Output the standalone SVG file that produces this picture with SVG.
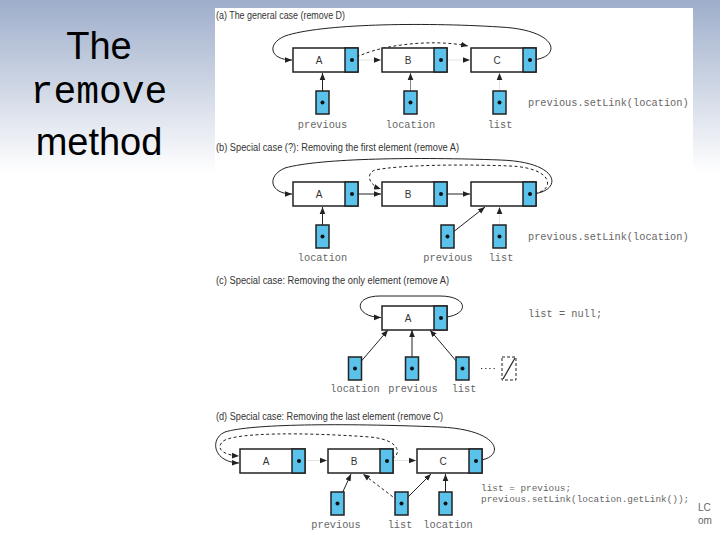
<svg xmlns="http://www.w3.org/2000/svg" xmlns:xlink="http://www.w3.org/1999/xlink" width="720" height="540" viewBox="0 0 720 540">
<style>
.title{font-family:"Liberation Sans",Arial,sans-serif;font-size:38px;fill:#000;text-anchor:middle}
.titlem{font-family:"Liberation Mono","Courier New",monospace;font-size:38px;fill:#000;text-anchor:middle}
.cap{font-family:"Liberation Sans",Arial,sans-serif;font-size:10px;fill:#333}
.lbl{font-family:"Liberation Mono","Courier New",monospace;font-size:10.3px;fill:#666;text-anchor:middle}
.code{font-family:"Liberation Mono","Courier New",monospace;font-size:10.3px;fill:#666}
.nt{font-family:"Liberation Sans",Arial,sans-serif;font-size:10px;fill:#333;text-anchor:middle}
.ln{fill:none;stroke:#222;stroke-width:1}
.ds{fill:none;stroke:#222;stroke-width:1;stroke-dasharray:3,2.5}
.fa{fill:none;stroke:#e4e4e4;stroke-width:1}
.gl{fill:none;stroke:#888;stroke-width:1}
.cr{font-family:"Liberation Sans",Arial,sans-serif;font-size:10px;fill:#666}
</style>
<defs>
<linearGradient id="bg" x1="0" y1="0" x2="0" y2="1">
<stop offset="0" stop-color="#9eaecb"/>
<stop offset="0.32" stop-color="#ffffff"/>
<stop offset="1" stop-color="#ffffff"/>
</linearGradient>
<marker id="ah" viewBox="0 0 10 10" refX="10" refY="5" markerWidth="7" markerHeight="7" markerUnits="userSpaceOnUse" orient="auto">
<path d="M0,1 L10,5 L0,9 z" fill="#222"/>
</marker>
<g id="node">
<rect x="0" y="0" width="65" height="24" fill="#fff" stroke="#222" stroke-width="1.5"/>
<rect x="52" y="0" width="13" height="24" fill="#5bc2ec" stroke="#222" stroke-width="1.5"/>
<circle cx="59" cy="12" r="2" fill="#111"/>
</g>
<g id="ptr">
<rect x="0" y="0" width="13" height="23" fill="#5bc2ec" stroke="#222" stroke-width="1.5"/>
<circle cx="6.5" cy="11.5" r="2" fill="#111"/>
</g>
</defs>
<rect x="0" y="0" width="720" height="540" fill="url(#bg)"/>
<text class="cr" x="698" y="511">LC</text>
<text class="cr" x="698" y="524">om</text>
<rect x="215" y="8" width="478" height="524" fill="#fff"/>
<g id="title">
<text class="title" x="99" y="59">The</text>
<text class="titlem" x="99" y="103">remove</text>
<text class="title" x="99" y="155">method</text>
</g>
<g id="captions">
<text class="cap" x="216" y="19" textLength="129" lengthAdjust="spacingAndGlyphs">(a) The general case (remove D)</text>
<text class="cap" x="216" y="151" textLength="243" lengthAdjust="spacingAndGlyphs">(b) Special case (?): Removing the first element (remove A)</text>
<text class="cap" x="216" y="284" textLength="233" lengthAdjust="spacingAndGlyphs">(c) Special case: Removing the only element (remove A)</text>
<text class="cap" x="216" y="420" textLength="227" lengthAdjust="spacingAndGlyphs">(d) Special case: Removing the last element (remove C)</text>
</g>
<g id="connectors">
<line class="ln" x1="322.5" y1="102.5" x2="322.5" y2="73" marker-end="url(#ah)"/>
<line class="gl" x1="410.5" y1="102.5" x2="410.5" y2="73" marker-end="url(#ah)"/>
<line class="fa" x1="499.5" y1="102.5" x2="499.5" y2="73" marker-end="url(#ah)"/>
<line class="fa" x1="352" y1="60" x2="381" y2="60" marker-end="url(#ah)"/>
<line class="fa" x1="441" y1="60" x2="470" y2="60" marker-end="url(#ah)"/>
<path class="ds" d="M352,60 C372,46 430,38 468,46" marker-end="url(#ah)"/>
<path class="ln" d="M529,60 C562,60 562,30 500,27 C420,22 320,24 285,36 C266,44 270,60 292,60" marker-end="url(#ah)"/>
<line class="ln" x1="322.5" y1="236.5" x2="322.5" y2="207" marker-end="url(#ah)"/>
<line class="ln" x1="352" y1="194" x2="381" y2="194" marker-end="url(#ah)"/>
<line class="ln" x1="441" y1="194" x2="470" y2="194" marker-end="url(#ah)"/>
<line class="ln" x1="447.5" y1="236.5" x2="485" y2="207" marker-end="url(#ah)"/>
<line class="fa" x1="499.5" y1="236.5" x2="499.5" y2="207" marker-end="url(#ah)"/>
<path class="ds" d="M529,194 C555,194 558,168 510,166 C460,164 400,165 375,170 C366,173 368,185 381,189" marker-end="url(#ah)"/>
<path class="ln" d="M529,194 C562,194 565,162 500,160 C420,157 320,158 285,168 C266,176 270,194 292,194" marker-end="url(#ah)"/>
<line class="ln" x1="355" y1="368.5" x2="388" y2="330" marker-end="url(#ah)"/>
<line class="ln" x1="412" y1="368.5" x2="412" y2="330" marker-end="url(#ah)"/>
<line class="ln" x1="462.5" y1="368.5" x2="430" y2="330" marker-end="url(#ah)"/>
<path class="ln" d="M440,317.5 C470,317 470,296 440,296 L380,296 C352,296 355,317 381,317.5" marker-end="url(#ah)"/>
<line x1="481" y1="368.5" x2="496" y2="368.5" stroke="#222" stroke-width="1.2" stroke-dasharray="1.2,3"/>
<line class="ln" x1="337.5" y1="503.5" x2="351" y2="474" marker-end="url(#ah)"/>
<line class="ds" x1="401.5" y1="503.5" x2="363" y2="474" marker-end="url(#ah)"/>
<line class="ln" x1="401.5" y1="503.5" x2="431" y2="474" marker-end="url(#ah)"/>
<line class="ln" x1="445.5" y1="503.5" x2="445.5" y2="474" marker-end="url(#ah)"/>
<line class="fa" x1="299" y1="460.5" x2="327" y2="460.5" marker-end="url(#ah)"/>
<line class="fa" x1="387" y1="460.5" x2="416" y2="460.5" marker-end="url(#ah)"/>
<path class="ds" d="M387,460.5 C402,458 404,440 370,437 C300,432 240,433 225,440 C215,446 220,455 239,456" marker-end="url(#ah)"/>
<path class="ln" d="M475.5,460.5 C505,460 505,430 440,427 C340,423 250,424 225,432 C210,438 212,462 239,463" marker-end="url(#ah)"/>
</g>
<g id="a-A"><use xlink:href="#node" x="293" y="48"/><text class="nt" x="319" y="64">A</text></g>
<g id="a-B"><use xlink:href="#node" x="382" y="48"/><text class="nt" x="408" y="64">B</text></g>
<g id="a-C"><use xlink:href="#node" x="471" y="48"/><text class="nt" x="497" y="64">C</text></g>
<g id="a-previous"><use xlink:href="#ptr" x="316" y="91"/><text class="lbl" x="322.5" y="128">previous</text></g>
<g id="a-location"><use xlink:href="#ptr" x="404" y="91"/><text class="lbl" x="410.5" y="128">location</text></g>
<g id="a-list"><use xlink:href="#ptr" x="493" y="91"/><text class="lbl" x="500" y="128">list</text></g>
<text class="code" x="528" y="106">previous.setLink(location)</text>
<g id="b-A"><use xlink:href="#node" x="293" y="182"/><text class="nt" x="319" y="198">A</text></g>
<g id="b-B"><use xlink:href="#node" x="382" y="182"/><text class="nt" x="408" y="198">B</text></g>
<g id="b-C"><use xlink:href="#node" x="471" y="182"/></g>
<g id="b-location"><use xlink:href="#ptr" x="316" y="225"/><text class="lbl" x="322.5" y="261">location</text></g>
<g id="b-previous"><use xlink:href="#ptr" x="441" y="225"/><text class="lbl" x="448" y="261">previous</text></g>
<g id="b-list"><use xlink:href="#ptr" x="493" y="225"/><text class="lbl" x="501" y="261">list</text></g>
<text class="code" x="528" y="240">previous.setLink(location)</text>
<g id="c-A"><use xlink:href="#node" x="382" y="306"/><text class="nt" x="408" y="322">A</text></g>
<g id="c-location"><use xlink:href="#ptr" x="348.5" y="357"/><text class="lbl" x="355" y="392">location</text></g>
<g id="c-previous"><use xlink:href="#ptr" x="405.5" y="357"/><text class="lbl" x="413" y="392">previous</text></g>
<g id="c-list"><use xlink:href="#ptr" x="456" y="357"/><text class="lbl" x="464" y="392">list</text></g>
<g id="c-null"><rect x="502" y="357" width="14" height="23" fill="none" stroke="#222" stroke-width="1" stroke-dasharray="3,2"/><line x1="503" y1="379" x2="515" y2="358" stroke="#222" stroke-width="1.2"/></g>
<text class="code" x="528" y="317">list = null;</text>
<g id="d-A"><use xlink:href="#node" x="240" y="449"/><text class="nt" x="266" y="465">A</text></g>
<g id="d-B"><use xlink:href="#node" x="328" y="449"/><text class="nt" x="354" y="465">B</text></g>
<g id="d-C"><use xlink:href="#node" x="417" y="449"/><text class="nt" x="443" y="465">C</text></g>
<g id="d-previous"><use xlink:href="#ptr" x="331" y="492"/><text class="lbl" x="336" y="528">previous</text></g>
<g id="d-list"><use xlink:href="#ptr" x="395" y="492"/><text class="lbl" x="400" y="528">list</text></g>
<g id="d-location"><use xlink:href="#ptr" x="439" y="492"/><text class="lbl" x="448" y="528">location</text></g>
<text class="code" x="481" y="491" style="font-size:9.4px">list = previous;</text>
<text class="code" x="481" y="502" style="font-size:9.4px">previous.setLink(location.getLink());</text>
</svg>
